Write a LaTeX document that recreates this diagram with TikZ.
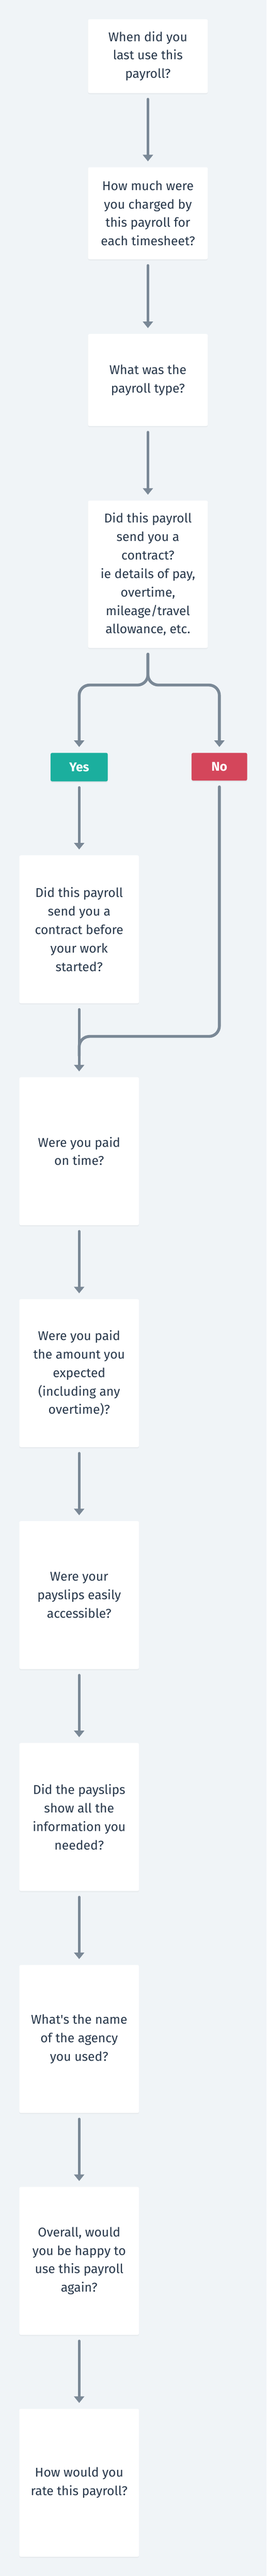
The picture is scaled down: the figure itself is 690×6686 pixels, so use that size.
\documentclass[tikz,border=0pt]{standalone}
\usepackage{fontspec}
\setmainfont{Fira Sans}
\usetikzlibrary{arrows.meta,shadows,calc}
\definecolor{bg}{HTML}{F0F4F7}
\definecolor{ink}{HTML}{27374A}
\definecolor{arrowc}{HTML}{7A8896}
\definecolor{yesc}{HTML}{1BAF9E}
\definecolor{noc}{HTML}{D4465B}
\tikzset{
  qbox/.style={fill=white, rounded corners=4pt, minimum width=310pt, inner sep=0pt,
    align=center, text=ink, font=\fontsize{33}{48}\selectfont,
    drop shadow={shadow xshift=0pt, shadow yshift=-3pt, opacity=0.035, fill=black}},
  topbox/.style={qbox, minimum height=#1},
  lowbox/.style={qbox, minimum height=384pt},
  answer/.style={rounded corners=4pt, inner sep=0pt, text=white,
    font=\fontsize{33}{40}\selectfont\bfseries,
    drop shadow={shadow xshift=0pt, shadow yshift=-3pt, opacity=0.06, fill=black}},
  conn/.style={draw=arrowc, line width=7.5pt, line cap=round, line join=round},
  arr/.style={conn, -{Triangle[width=26pt,length=17pt]}, shorten <=16pt, shorten >=15pt},
  plain/.style={conn, shorten <=16pt},
}
\begin{document}
\begin{tikzpicture}[x=1pt,y=-1pt]
\useasboundingbox (0,0) rectangle (690,6686);
\fill[bg] (0,0) rectangle (690,6686);

\node[topbox=191.5pt] (b1) at (383,145.75) {When did you\\last use this\\payroll?};
\node[topbox=239pt] (b2) at (383,553.5) {How much were\\you charged by\\this payroll for\\each timesheet?};
\node[topbox=239pt] (b3) at (383,986.3) {What was the\\payroll type?};
\node[topbox=382.5pt] (b4) at (383,1490.5) {Did this payroll\\send you a\\contract?\\ie details of pay,\\overtime,\\mileage/travel\\allowance, etc.};

\node[answer, fill=yesc, minimum width=148pt, minimum height=74pt] (yes) at (205,1991) {Yes};
\node[answer, fill=noc, minimum width=144pt, minimum height=72pt] (no) at (568,1990) {No};

\node[lowbox] (b5) at (205,2412) {Did this payroll\\send you a\\contract before\\your work\\started?};
\node[lowbox] (b6) at (205,2988) {Were you paid\\on time?};
\node[lowbox] (b7) at (205,3564) {Were you paid\\the amount you\\expected\\(including any\\overtime)?};
\node[lowbox] (b8) at (205,4140) {Were your\\payslips easily\\accessible?};
\node[lowbox] (b9) at (205,4716) {Did the payslips\\show all the\\information you\\needed?};
\node[lowbox] (b10) at (205,5292) {What\textquotesingle s the name\\of the agency\\you used?};
\node[lowbox] (b11) at (205,5868) {Overall, would\\you be happy to\\use this payroll\\again?};
\node[lowbox] (b12) at (205,6444) {How would you\\rate this payroll?};

\coordinate (fork) at (383,1778);
\coordinate (merge) at (568,2690);
\coordinate (mergeend) at (205,2740);

\draw[arr] (b1) -- (b2);
\draw[arr] (b2) -- (b3);
\draw[arr] (b3) -- (b4);
\draw[arr, rounded corners=27pt] (b4) -- (fork) -- (fork -| yes) -- (yes);
\draw[arr, rounded corners=27pt] (b4) -- (fork) -- (fork -| no) -- (no);
\draw[arr] (yes) -- (b5);
\draw[plain, rounded corners=27pt] (no) -- (merge) -- (merge -| mergeend) -- (mergeend);
\draw[arr] (b5) -- (b6);
\draw[arr] (b6) -- (b7);
\draw[arr] (b7) -- (b8);
\draw[arr] (b8) -- (b9);
\draw[arr] (b9) -- (b10);
\draw[arr] (b10) -- (b11);
\draw[arr] (b11) -- (b12);
\end{tikzpicture}
\end{document}
